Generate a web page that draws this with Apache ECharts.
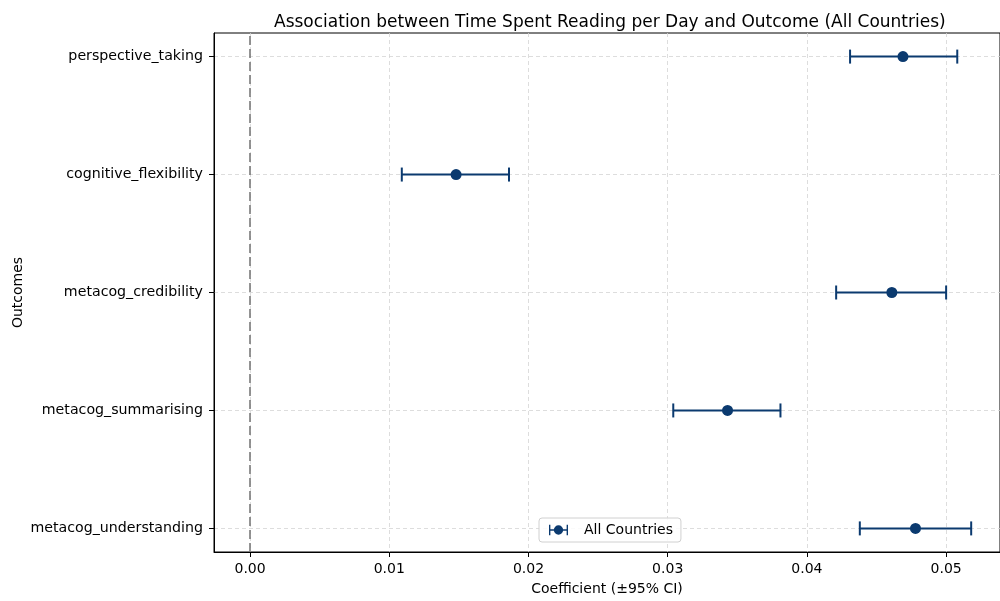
<!DOCTYPE html>
<html>
<head>
<meta charset="utf-8">
<script src="https://cdn.jsdelivr.net/npm/echarts@6/dist/echarts.min.js"></script>
<style>
  html, body { margin: 0; padding: 0; background: #fff; }
  #chart { width: 1000px; height: 601px; }
</style>
</head>
<body>
<div id="chart"></div>
<script>
// Outcomes, listed bottom to top
const outcomes = [
  'metacog_understanding',
  'metacog_summarising',
  'metacog_credibility',
  'cognitive_flexibility',
  'perspective_taking'
];
// Coefficient estimates and 95% confidence bounds
const coefficients = [0.0478, 0.0343, 0.0461, 0.0148, 0.0469];
const lowerCI      = [0.0438, 0.0304, 0.0421, 0.0109, 0.0431];
const upperCI      = [0.0518, 0.0381, 0.0500, 0.0186, 0.0508];
// Axis ticks
const xTicks = [0, 0.01, 0.02, 0.03, 0.04, 0.05];
const yTicks = [0, 1, 2, 3, 4];

const FONT = 'DejaVu Sans';
const COLOR = '#0b3a6f';

const errData = outcomes.map((o, i) => [lowerCI[i], upperCI[i], i]);
const pointData = outcomes.map((o, i) => [coefficients[i], i]);

const chart = echarts.init(document.getElementById('chart'), null, { renderer: 'canvas' });

// error bar glyph used in the legend: caps, bar and marker
const legendIcon = 'path://M0,2h1.6v12h-1.6Z M20.4,2h1.6v12h-1.6Z M0,7.2h22v1.6h-22Z M11,2.6a5.4,5.4 0 1 1 -0.01,0Z';

chart.setOption({
  animation: false,
  backgroundColor: '#fff',
  textStyle: { fontFamily: FONT },
  title: {
    text: 'Association between Time Spent Reading per Day and Outcome (All Countries)',
    left: 269, top: 9,
    textStyle: { fontFamily: FONT, fontSize: 17, fontWeight: 'normal', color: '#000' }
  },
  legend: {
    data: [{ name: 'All Countries', icon: legendIcon }],
    left: 539, top: 518,
    itemWidth: 19, itemHeight: 14, itemGap: 10,
    padding: [5, 8, 5, 10],
    backgroundColor: 'rgba(255,255,255,0.85)',
    borderColor: '#d0d0d0', borderWidth: 1, borderRadius: 3,
    textStyle: { fontFamily: FONT, fontSize: 14, color: '#000', padding: [0, 0, 0, 11] }
  },
  grid: {
    left: 214, right: 0, top: 33, bottom: 49,
    outerBoundsMode: 'none', containLabel: false,
    show: true, borderColor: '#000', borderWidth: 1, backgroundColor: 'transparent'
  },
  xAxis: {
    type: 'value', min: -0.00259, max: 0.05387,
    name: 'Coefficient (±95% CI)', nameLocation: 'middle', nameGap: 30,
    nameTextStyle: { fontFamily: FONT, fontSize: 14, color: '#000' },
    axisLine: { show: true, onZero: false, lineStyle: { color: '#000', width: 1 } },
    axisTick: { show: true, length: 5, customValues: xTicks, lineStyle: { color: '#000' } },
    axisLabel: {
      customValues: xTicks, margin: 10, fontFamily: FONT, fontSize: 14, color: '#000',
      formatter: v => v.toFixed(2)
    },
    splitLine: { show: true, lineStyle: { color: '#d4d4d4', type: [4, 3], width: 0.8 } }
  },
  yAxis: {
    type: 'value', min: -0.2, max: 4.2,
    name: 'Outcomes', nameLocation: 'middle', nameGap: 189, nameRotate: 90,
    nameMoveOverlap: false,
    nameTextStyle: { fontFamily: FONT, fontSize: 14, color: '#000' },
    axisLine: { show: true, onZero: false, lineStyle: { color: '#000', width: 1 } },
    axisTick: { show: true, length: 5, customValues: yTicks, lineStyle: { color: '#000' } },
    axisLabel: {
      customValues: yTicks, margin: 11, fontFamily: FONT, fontSize: 14.2, color: '#000',
      padding: [6, 0, 0, 0],
      formatter: v => outcomes[Math.round(v)] || ''
    },
    splitLine: { show: true, lineStyle: { color: '#d4d4d4', type: [4, 3], width: 0.8 } }
  },
  series: [
    {
      // reference line at zero effect
      type: 'line', data: [], silent: true,
      markLine: {
        symbol: 'none', silent: true, label: { show: false },
        lineStyle: { color: '#7a7a7a', type: [9, 4], width: 1.6 },
        data: [{ xAxis: 0 }]
      }
    },
    {
      name: 'All Countries',
      type: 'custom',
      data: errData,
      encode: { x: [0, 1], y: 2 },
      renderItem: (params, api) => {
        const lo = api.coord([api.value(0), api.value(2)]);
        const hi = api.coord([api.value(1), api.value(2)]);
        const cap = 7;
        const style = { stroke: COLOR, lineWidth: 2, fill: null };
        return {
          type: 'group',
          children: [
            { type: 'line', shape: { x1: lo[0], y1: lo[1], x2: hi[0], y2: hi[1] }, style },
            { type: 'line', shape: { x1: lo[0], y1: lo[1] - cap, x2: lo[0], y2: lo[1] + cap }, style },
            { type: 'line', shape: { x1: hi[0], y1: hi[1] - cap, x2: hi[0], y2: hi[1] + cap }, style }
          ]
        };
      },
      itemStyle: { color: COLOR },
      z: 3
    },
    {
      name: 'All Countries',
      type: 'scatter',
      data: pointData,
      symbol: 'circle', symbolSize: 11,
      itemStyle: { color: COLOR, opacity: 1 },
      z: 4
    }
  ]
});
</script>
</body>
</html>
